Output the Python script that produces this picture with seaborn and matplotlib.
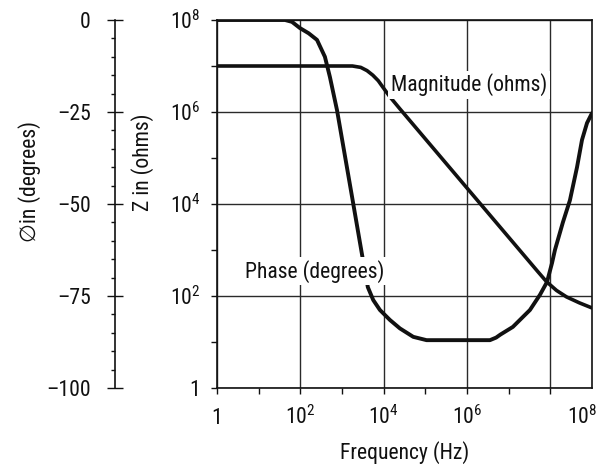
import matplotlib
matplotlib.use("Agg")
import matplotlib.pyplot as plt
import matplotlib.ticker as mticker
from matplotlib import font_manager
from matplotlib.transforms import ScaledTranslation
import seaborn as sns

# ---------------- data ----------------
mag_freq_hz = [1, 603, 1047, 1778, 2818, 3981, 5495, 7413, 9550, 14125, 24547,
               1.738e6, 5.01e7, 8.13e7, 1.41e8, 2.45e8, 5.01e8, 1.0e9]
mag_ohms = [1e7, 1e7, 1e7, 1e7, 9.33e6, 7.94e6, 6.31e6, 4.79e6, 3.47e6, 2.14e6, 1.17e6,
            1.23e4, 339, 204, 132, 95.5, 70.8, 55]

phase_freq_hz = [1, 43, 63, 98, 158, 251, 389, 513, 759, 1740, 3160, 4170, 5620, 8130,
                 14100, 24500, 51300, 107000, 3.55e6, 5.0e6, 6.3e6, 1.26e7, 3.24e7,
                 5.62e7, 8.32e7, 1.10e8, 1.29e8, 2.0e8, 2.95e8, 4.37e8, 5.75e8, 7.59e8, 1.0e9]
phase_deg = [0, 0, -0.5, -2.2, -3.6, -5.4, -10, -15.5, -24.5, -48, -65, -72.6, -76.1, -78.8,
             -81.5, -83.8, -86.1, -87, -87, -86.3, -85.5, -83.4, -78.8,
             -74.7, -71.2, -66, -62.5, -55, -49, -40, -32.6, -28, -25.3]

freq_ticks = [1, 1e2, 1e4, 1e6, 1e8]
freq_tick_labels = ["1", r"$\mathregular{10^2}$", r"$\mathregular{10^4}$",
                    r"$\mathregular{10^6}$", r"$\mathregular{10^8}$"]
freq_minor = [10, 1e3, 1e5, 1e7]
z_ticks = [1, 1e2, 1e4, 1e6, 1e8]
z_tick_labels = ["1", r"$\mathregular{10^2}$", r"$\mathregular{10^4}$",
                 r"$\mathregular{10^6}$", r"$\mathregular{10^8}$"]
z_minor = [10, 1e3, 1e5, 1e7]
phase_ticks = [0, -25, -50, -75, -100]
phase_tick_labels = ["0", "\u201325", "\u201350", "\u201375", "\u2013100"]

# ---------------- style ----------------
INK = "#111111"
GRID = "#2a2a2a"
sns.set_style("ticks")

names = {f.name for f in font_manager.fontManager.ttflist}
MAIN = "Liberation Sans"
for cand in ["Roboto Condensed", "Archivo Narrow", "Liberation Sans"]:
    if cand in names:
        MAIN = cand
        break

plt.rcParams["font.family"] = [MAIN, "DejaVu Sans"]
plt.rcParams["mathtext.fontset"] = "custom"
plt.rcParams["mathtext.rm"] = MAIN
plt.rcParams["mathtext.it"] = MAIN + ":italic"
plt.rcParams["mathtext.bf"] = MAIN + ":bold"
for k in ["text.color", "axes.labelcolor", "xtick.color", "ytick.color", "axes.edgecolor"]:
    plt.rcParams[k] = INK

fig = plt.figure(figsize=(5.98, 4.68), dpi=100)

# calibrate font size so that "Magnitude (ohms)" is ~157 px wide, as in the reference
_probe = fig.text(0, 0, "Magnitude (ohms)", fontsize=14)
_w = _probe.get_window_extent(fig.canvas.get_renderer()).width
_probe.remove()
FS = max(13.0, min(18.0, 14 * 157 / _w))

ax = fig.add_axes([217 / 598, 80 / 468, 375 / 598, 368 / 468])
ax.set_xscale("log")
ax.set_yscale("log")

sns.lineplot(x=mag_freq_hz, y=mag_ohms, ax=ax, color=INK, linewidth=2.6, sort=False)

ax2 = ax.twinx()
sns.lineplot(x=phase_freq_hz, y=phase_deg, ax=ax2, color=INK, linewidth=2.8, sort=False)

ax.set_xlim(1, 1e9)
ax.set_ylim(1, 1e8)
ax2.set_ylim(-100, 0)

# main axis ticks / grid
ax.set_xticks(freq_ticks, freq_tick_labels)
ax.set_xticks(freq_minor, minor=True)
ax.set_yticks(z_ticks, z_tick_labels)
ax.set_yticks(z_minor, minor=True)
ax.xaxis.set_minor_formatter(mticker.NullFormatter())
ax.yaxis.set_minor_formatter(mticker.NullFormatter())
ax.grid(True, which="major", color=GRID, linewidth=1.0)
ax.tick_params(axis="both", which="both", direction="out", length=4, width=1.0,
               labelsize=FS, colors=INK)
ax.tick_params(axis="y", which="both", pad=8)
ax.tick_params(axis="x", which="both", pad=22)
for s in ax.spines.values():
    s.set_visible(True)
    s.set_linewidth(1.2)
    s.set_color(INK)

xlabels = ax.get_xticklabels()
for lab in xlabels:
    lab.set_va("baseline")
xlabels[-1].set_transform(xlabels[-1].get_transform()
                          + ScaledTranslation(0.32, 0, fig.dpi_scale_trans))

# phase axis on the far left
for side in ["right", "top", "bottom"]:
    ax2.spines[side].set_visible(False)
ax2.spines["left"].set_visible(True)
ax2.spines["left"].set_position(("outward", 102 * 72 / 100))
ax2.spines["left"].set_linewidth(1.2)
ax2.spines["left"].set_color(INK)
ax2.yaxis.tick_left()
ax2.yaxis.set_label_position("left")
ax2.set_yticks(phase_ticks, phase_tick_labels)
ax2.yaxis.set_minor_locator(mticker.MultipleLocator(5))
ax2.tick_params(axis="y", which="major", direction="inout", length=11, width=1.0,
                pad=12, labelsize=FS, colors=INK)
ax2.tick_params(axis="y", which="minor", direction="out", length=3, width=1.0, colors=INK)

# axis labels
ax.set_xlabel("Frequency (Hz)", fontsize=FS)
ax.xaxis.set_label_coords(0.5, (388 - 459) / 368)
ax.xaxis.label.set_va("baseline")
ax.set_ylabel("Z in (ohms)", fontsize=FS)
ax.yaxis.set_label_coords((143 - 217) / 375, (388 - 162) / 368)
ax.yaxis.label.set_va("center")
ax2.set_ylabel("\u2205in (degrees)", fontsize=FS)
ax2.yaxis.set_label_coords((30 - 217) / 375, (388 - 181) / 368)
ax2.yaxis.label.set_va("center")

# curve annotations
box = dict(boxstyle="square,pad=0.12", fc="white", ec="none")
ax.text(1.12e6, 2.86e6, "Magnitude (ohms)", ha="center", va="baseline",
        fontsize=FS, bbox=box, zorder=5)
ax2.text(219, -70, "Phase (degrees)", ha="center", va="baseline",
         fontsize=FS, bbox=box, zorder=5)

fig.savefig("out.png", dpi=100)
